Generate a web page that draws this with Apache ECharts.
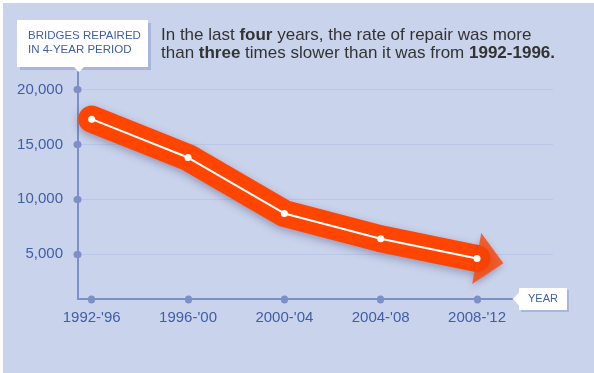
<!DOCTYPE html>
<html><head><meta charset="utf-8">
<script src="https://cdn.jsdelivr.net/npm/echarts@6/dist/echarts.min.js"></script>
<style>html,body{margin:0;padding:0;background:#fff;}#c{width:594px;height:373px;}</style>
</head><body><div id="c"></div>
<script>
// ---- data ----
const categories = ["1992-'96", "1996-'00", "2000-'04", "2004-'08", "2008-'12"];
const bridgesRepaired = [17300, 13800, 8700, 6400, 4600];
const yTickValues = [5000, 10000, 15000, 20000];
const xTickValues = [0, 1, 2, 3, 4];
const yAxisTitleLines = ["BRIDGES REPAIRED", "IN 4-YEAR PERIOD"];
const xAxisTitle = "YEAR";
const headlineLine1 = ["In the last ", "four", " years, the rate of repair was more"];
const headlineLine2 = ["than ", "three", " times slower than it was from ", "1992-1996."];

// ---- build ----
const points = bridgesRepaired.map((v, i) => [i, v]);
const lastPoint = [points[points.length - 1]];
const FONT = '"Liberation Sans", Arial, Helvetica, sans-serif';
const AX = '#7C8FC6';
const LBL = '#3F5EA6';
const ORANGE = '#FF4500';
const BG = '#CAD3EC';

const headline =
  '{n|' + headlineLine1[0] + '}{b|' + headlineLine1[1] + '}{n|' + headlineLine1[2] + '}\n' +
  '{n|' + headlineLine2[0] + '}{b|' + headlineLine2[1] + '}{n|' + headlineLine2[2] + '}{b|' + headlineLine2[3] + '}';

const chart = echarts.init(document.getElementById('c'), null, { renderer: 'canvas' });
chart.setOption({
  backgroundColor: BG,
  animation: false,
  textStyle: { fontFamily: FONT },
  title: {
    left: 161, top: 26, padding: 0,
    text: headline,
    textStyle: {
      fontWeight: 'normal', fontSize: 17,
      rich: {
        n: { fontSize: 17, color: '#333333', lineHeight: 18, fontWeight: 'normal', fontFamily: FONT },
        b: { fontSize: 17, color: '#333333', lineHeight: 18, fontWeight: 'bold', fontFamily: FONT }
      }
    }
  },
  grid: [
    { left: 78, right: 82, top: 72, bottom: 74 },
    { left: 78, right: 41, top: 89.5, bottom: 119 }
  ],
  xAxis: [
    {
      type: 'value', gridIndex: 0, min: -0.142, max: 4.363,
      axisLine: { show: true, onZero: false, lineStyle: { color: AX, width: 2 } },
      axisTick: { show: true, customValues: xTickValues, length: 1, lineStyle: { color: AX, width: 7, cap: 'round' } },
      axisLabel: { customValues: xTickValues, formatter: v => categories[v] || '', color: LBL, fontSize: 15, margin: 11, fontFamily: FONT },
      splitLine: { show: false },
      name: xAxisTitle, nameLocation: 'end', nameGap: 7,
      nameTextStyle: {
        color: LBL, fontSize: 11, fontFamily: FONT, lineHeight: 12,
        backgroundColor: '#fff', padding: [5, 9, 5, 9],
        align: 'left', verticalAlign: 'middle',
        shadowColor: '#A9B5DC', shadowOffsetX: 2, shadowOffsetY: 2, shadowBlur: 0
      }
    },
    { type: 'value', gridIndex: 1, show: false, min: 0, max: 1 }
  ],
  yAxis: [
    {
      type: 'value', gridIndex: 0, min: 900, max: 21600,
      axisLine: { show: true, onZero: false, lineStyle: { color: AX, width: 2 } },
      axisTick: { show: true, customValues: yTickValues, length: 1, lineStyle: { color: AX, width: 7, cap: 'round' } },
      axisLabel: { customValues: yTickValues, formatter: v => v.toLocaleString('en-US'), color: LBL, fontSize: 15, margin: 15, fontFamily: FONT },
      splitLine: { show: false }
    },
    {
      type: 'value', gridIndex: 1, min: 5000, max: 20000, interval: 5000,
      axisLine: { show: false }, axisTick: { show: false }, axisLabel: { show: false },
      splitLine: { show: true, lineStyle: { color: '#BCC6E6', width: 1 } }
    }
  ],
  graphic: [
    { type: 'rect', shape: { x: 0, y: 0, width: 594, height: 3 }, style: { fill: '#fff' }, z: 100 },
    { type: 'rect', shape: { x: 0, y: 0, width: 3, height: 373 }, style: { fill: '#fff' }, z: 100 },
    { type: 'rect', shape: { x: 17, y: 20, width: 131, height: 47 }, style: { fill: '#fff', shadowColor: '#A9B5DC', shadowOffsetX: 3, shadowOffsetY: 3, shadowBlur: 0 }, z: 50 },
    { type: 'polygon', shape: { points: [[73, 66], [85, 66], [79, 72]] }, style: { fill: '#fff' }, z: 51 },
    { type: 'text', x: 28, y: 35.5, style: { text: yAxisTitleLines[0], font: '11.5px ' + FONT, fill: LBL, align: 'left', verticalAlign: 'middle' }, z: 52 },
    { type: 'text', x: 28, y: 49.5, style: { text: yAxisTitleLines[1], font: '11.5px ' + FONT, fill: LBL, align: 'left', verticalAlign: 'middle' }, z: 52 },
    { type: 'polygon', shape: { points: [[519.5, 292], [513, 299], [519.5, 306]] }, style: { fill: '#fff' }, z: 52 }
  ],
  series: [
    {
      type: 'line', data: points, symbol: 'none', silent: true, z: 3,
      lineStyle: { color: ORANGE, width: 27, cap: 'round', join: 'round', shadowColor: 'rgba(40,40,90,0.35)', shadowBlur: 8, shadowOffsetY: 3 }
    },
    {
      type: 'scatter', data: lastPoint, symbol: 'triangle', symbolSize: [52, 27], symbolRotate: -100, symbolOffset: [13, 2.4], silent: true, z: 4,
      itemStyle: { color: ORANGE, shadowColor: 'rgba(40,40,90,0.3)', shadowBlur: 6, shadowOffsetY: 3 }
    },
    {
      type: 'line', data: points, symbol: 'circle', symbolSize: 7, showSymbol: true, silent: true, z: 5,
      lineStyle: { color: '#fff', width: 2 },
      itemStyle: { color: '#fff', borderWidth: 0 }
    }
  ]
});
</script>
</body></html>
